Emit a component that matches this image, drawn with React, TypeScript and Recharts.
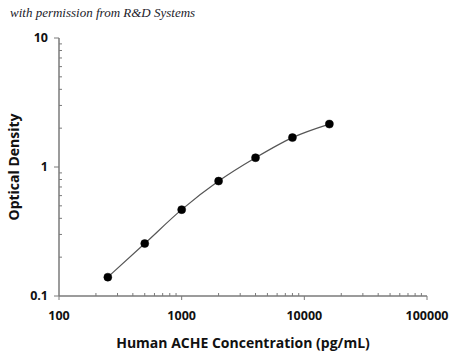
import React from 'react';
import { ComposedChart, Line, XAxis, YAxis } from 'recharts';

const concentrations = [250, 500, 1000, 2000, 4000, 8000, 16000];
const opticalDensity = [0.14, 0.255, 0.467, 0.778, 1.18, 1.69, 2.15];

const xMajorTicks = [100, 1000, 10000, 100000];
const xMinorTicks = [
  200, 300, 400, 500, 600, 700, 800, 900,
  2000, 3000, 4000, 5000, 6000, 7000, 8000, 9000,
  20000, 30000, 40000, 50000, 60000, 70000, 80000, 90000,
];
const yMajorTicks = [0.1, 1, 10];
const yMinorTicks = [0.2, 0.3, 0.4, 0.5, 0.6, 0.7, 0.8, 0.9, 2, 3, 4, 5, 6, 7, 8, 9];

const data = concentrations.map((c, i) => ({ conc: c, od: opticalDensity[i] }));

const font = '"Open Sans", "Liberation Sans", sans-serif';
const axisColor = '#7a7a7a';
const textStyle = { fontFamily: font, fontWeight: 700, fill: '#111' };

// major ticks point outward with a label, minor ticks point inward
const XTick = ({ x, y, payload }: any) => {
  const major = xMajorTicks.includes(payload.value);
  return (
    <g>
      <line x1={x} x2={x} y1={y} y2={major ? y + 4 : y - 3} stroke={axisColor} strokeWidth={1} />
      {major && (
        <text x={x} y={y + 24} textAnchor="middle" style={{ ...textStyle, fontSize: 12.5 }}>
          {payload.value}
        </text>
      )}
    </g>
  );
};

const YTick = ({ x, y, payload }: any) => {
  const major = yMajorTicks.includes(payload.value);
  return (
    <g>
      <line x1={x} x2={major ? x - 5 : x + 3} y1={y} y2={y} stroke={axisColor} strokeWidth={1} />
      {major && (
        <text x={x - 11} y={y} dy="0.35em" textAnchor="end" style={{ ...textStyle, fontSize: 12.5 }}>
          {payload.value}
        </text>
      )}
    </g>
  );
};

const App: React.FC = () => {
  return (
    <div style={{ position: 'absolute', left: 0, top: 0, width: 450, height: 352, background: '#fff' }}>
      <div
        style={{
          position: 'absolute',
          left: 10,
          top: 5,
          fontFamily: '"Liberation Serif", serif',
          fontStyle: 'italic',
          fontSize: 13,
          color: '#1b1b2a',
          whiteSpace: 'nowrap',
        }}
      >
        with permission from R&amp;D Systems
      </div>
      <ComposedChart
        width={450}
        height={352}
        data={data}
        margin={{ top: 38, right: 23, bottom: 0, left: 0 }}
      >
        <XAxis
          dataKey="conc"
          type="number"
          scale="log"
          domain={[100, 100000]}
          ticks={[...xMajorTicks, ...xMinorTicks]}
          interval={0}
          height={56}
          tickSize={0}
          tickMargin={0}
          axisLine={{ stroke: axisColor, strokeWidth: 1.5 }}
          tickLine={false}
          tick={<XTick />}
          allowDataOverflow
          label={{
            content: ({ viewBox }: any) => (
              <text
                x={viewBox.x + viewBox.width / 2}
                y={viewBox.y + 52}
                textAnchor="middle"
                style={{ ...textStyle, fontSize: 14 }}
              >
                Human ACHE Concentration (pg/mL)
              </text>
            ),
          }}
        />
        <YAxis
          type="number"
          scale="log"
          domain={[0.1, 10]}
          ticks={[...yMajorTicks, ...yMinorTicks]}
          interval={0}
          width={59}
          tickSize={0}
          tickMargin={0}
          axisLine={{ stroke: axisColor, strokeWidth: 1.5 }}
          tickLine={false}
          tick={<YTick />}
          allowDataOverflow
          label={{
            content: ({ viewBox }: any) => {
              const cx = viewBox.x + 13;
              const cy = viewBox.y + viewBox.height / 2;
              return (
                <text
                  x={cx}
                  y={cy}
                  textAnchor="middle"
                  dominantBaseline="central"
                  transform={`rotate(-90 ${cx} ${cy})`}
                  style={{ ...textStyle, fontSize: 14 }}
                >
                  Optical Density
                </text>
              );
            },
          }}
        />
        <Line
          dataKey="od"
          type="monotone"
          stroke="#555"
          strokeWidth={1.2}
          dot={{ r: 4, fill: '#000', stroke: '#000', strokeWidth: 0.5 }}
          activeDot={false}
          isAnimationActive={false}
        />
      </ComposedChart>
    </div>
  );
};

export default App;
